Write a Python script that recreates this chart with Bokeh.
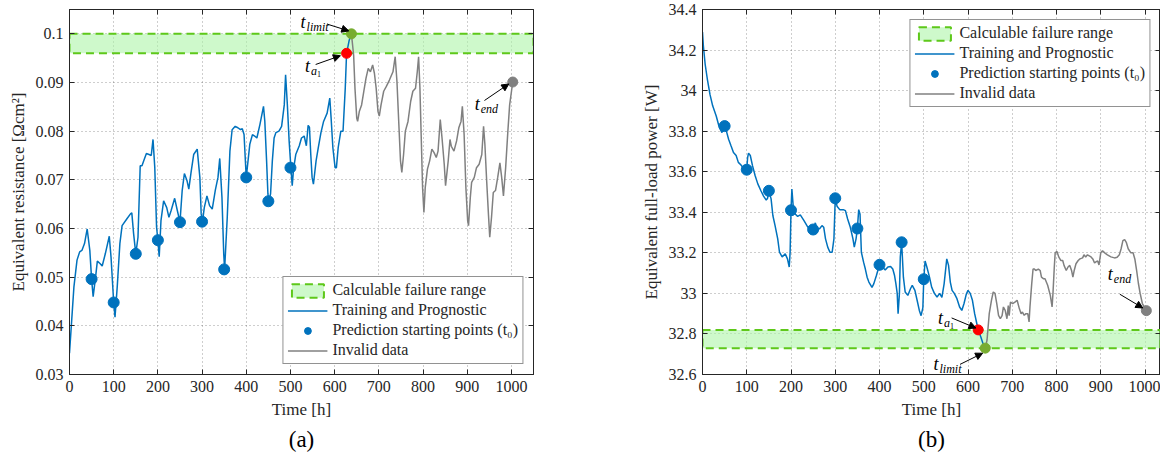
from bokeh.plotting import figure
from bokeh.models import (Range1d, Legend, LegendItem, Title, Arrow, NormalHead, Label,
                          FixedTicker, CustomJSTickFormatter, LinearAxis)
from bokeh.layouts import row
from bokeh.embed import file_html
from bokeh.resources import INLINE

FONT = "Liberation Serif"

# ---------------- data: (a) equivalent resistance ----------------
R_t_train = [0, 10, 17, 23, 28, 34, 40, 46, 50, 53.5, 59, 63, 69, 74, 81, 90, 94, 100, 103, 108, 114, 119, 130,
             138, 141, 145, 150, 155, 160, 164, 168, 174, 180, 185, 189, 193, 197, 200, 203, 207, 213, 220, 225,
             230, 238, 244, 250, 255, 260, 266, 270, 275, 281, 289, 295, 298, 301, 305, 311, 317, 323, 330, 336,
             340, 345, 349, 351, 357, 363, 368, 375, 381, 387, 391, 395, 398, 400, 404, 408, 414, 419, 424, 431,
             439, 442, 446, 449, 451, 455, 459, 463, 467, 474, 480, 486, 489, 493, 497, 501, 504, 507, 512, 520,
             525, 531, 536, 540, 543, 546, 549, 552, 558, 563, 569, 575, 583, 589, 592, 596, 601, 604, 608, 614,
             619, 624, 627, 633, 638]
R_train = [0.0344, 0.048, 0.0535, 0.0552, 0.0555, 0.0569, 0.0599, 0.0555, 0.0496, 0.046, 0.050, 0.0533, 0.0528,
           0.0523, 0.0548, 0.0584, 0.0541, 0.0448, 0.0418, 0.048, 0.0569, 0.0606, 0.062, 0.063, 0.0632, 0.059,
           0.0548, 0.0582, 0.0729, 0.0729, 0.0739, 0.0754, 0.0752, 0.075, 0.0783, 0.0725, 0.0603, 0.0576, 0.0542,
           0.0616, 0.0657, 0.0643, 0.0623, 0.0637, 0.0662, 0.0637, 0.0613, 0.0678, 0.0713, 0.0698, 0.0681, 0.0715,
           0.0752, 0.0763, 0.0705, 0.063, 0.0614, 0.0643, 0.0667, 0.0647, 0.064, 0.0679, 0.0705, 0.0744, 0.0664,
           0.0548, 0.0516, 0.0623, 0.0759, 0.0803, 0.081, 0.0807, 0.0803, 0.0805, 0.0793, 0.0739, 0.0705, 0.0739,
           0.0773, 0.0793, 0.079, 0.0786, 0.0814, 0.0851, 0.082, 0.0739, 0.0671, 0.0656, 0.0671, 0.0739, 0.0786,
           0.0797, 0.08, 0.081, 0.0854, 0.0916, 0.0854, 0.078, 0.0725, 0.0688, 0.0722, 0.0752, 0.077, 0.0786,
           0.079, 0.077, 0.0812, 0.0808, 0.0752, 0.0705, 0.0691, 0.0739, 0.0766, 0.0797, 0.082, 0.0837, 0.0868,
           0.0827, 0.0766, 0.0725, 0.0725, 0.0766, 0.08, 0.08, 0.0888, 0.096, 0.0987, 0.1]
R_t_invalid = [638, 643, 646, 650, 652, 656, 661, 666, 671, 676, 681, 686, 690, 694, 698, 701, 705, 711, 717, 724,
               732, 737, 741, 745, 749, 752, 756, 760, 766, 772, 777, 783, 787, 790, 793, 796, 799, 802, 805, 810,
               815, 820, 825, 830, 834, 839, 843, 848, 851, 857, 861, 864, 870, 876, 881, 886, 889, 893, 897, 901,
               903, 907, 910, 916, 921, 927, 933, 937, 940, 944, 948, 951, 955, 959, 964, 969, 974, 978, 982, 987,
               992, 996, 1003]
R_invalid = [0.1, 0.0956, 0.0888, 0.0827, 0.082, 0.0841, 0.0854, 0.0882, 0.0909, 0.0929, 0.0922, 0.0936, 0.0919,
             0.0888, 0.0841, 0.0831, 0.0854, 0.0882, 0.0892, 0.0905, 0.0922, 0.0953, 0.0902, 0.082, 0.0739, 0.0715,
             0.0752, 0.08, 0.082, 0.0861, 0.0882, 0.0888, 0.0922, 0.0953, 0.0888, 0.0786, 0.0684, 0.0633, 0.0684,
             0.0722, 0.0739, 0.0763, 0.0756, 0.0746, 0.0759, 0.0824, 0.0786, 0.0732, 0.0688, 0.0739, 0.0783, 0.0769,
             0.0759, 0.078, 0.0807, 0.082, 0.0851, 0.0793, 0.0684, 0.0616, 0.0606, 0.0664, 0.0695, 0.0705, 0.0725,
             0.0732, 0.0752, 0.081, 0.0773, 0.0698, 0.063, 0.0582, 0.0623, 0.0674, 0.0678, 0.0705, 0.0735, 0.0705,
             0.0667, 0.0725, 0.08, 0.0854, 0.0901]
R_t0 = [50, 100, 150, 200, 250, 300, 350, 400, 450, 500]
R_v0 = [0.0496, 0.0448, 0.0548, 0.0576, 0.0613, 0.0614, 0.0516, 0.0705, 0.0656, 0.0725]
R_band = [0.096, 0.1]
R_ta1 = [627, 0.096]
R_tlimit = [638, 0.1]
R_tend = [1003, 0.0901]

# ---------------- data: (b) equivalent full-load power ----------------
P_t_train = [0, 2, 6, 11, 17, 23, 31, 38, 44, 50, 54, 59, 64, 70, 76, 81, 87, 93, 100, 102, 104, 108, 113, 119,
             125, 132, 138, 144, 147, 150, 155, 159, 164, 170, 174, 180, 187, 192, 196, 198, 200, 202, 205, 210,
             215, 221, 229, 236, 242, 250, 255, 259, 265, 270, 274, 278, 283, 288, 293, 297, 300, 304, 310, 318,
             323, 328, 334, 340, 343, 347, 350, 353, 356, 359, 364, 368, 372, 376, 383, 387, 393, 400, 406, 413,
             419, 425, 430, 434, 437, 440, 442, 445, 447, 450, 454, 458, 464, 470, 474, 480, 485, 490, 494, 498,
             500, 503, 507, 513, 518, 524, 530, 536, 541, 546, 552, 556, 560, 564, 569, 575, 581, 586, 591, 596,
             600, 605, 610, 615, 619, 623, 629, 634, 639]
P_train = [34.289, 34.22, 34.13, 34.056, 33.98, 33.925, 33.875, 33.818, 33.793, 33.825, 33.80, 33.76, 33.73,
           33.695, 33.68, 33.646, 33.633, 33.616, 33.61, 33.67, 33.692, 33.68, 33.63, 33.58, 33.54, 33.506, 33.48,
           33.46, 33.469, 33.506, 33.466, 33.384, 33.334, 33.269, 33.203, 33.18, 33.195, 33.17, 33.13, 33.203,
           33.41, 33.515, 33.43, 33.39, 33.38, 33.387, 33.36, 33.334, 33.318, 33.315, 33.348, 33.315, 33.32,
           33.334, 33.326, 33.269, 33.228, 33.203, 33.203, 33.269, 33.469, 33.43, 33.413, 33.413, 33.408, 33.367,
           33.326, 33.269, 33.228, 33.269, 33.32, 33.413, 33.39, 33.203, 33.154, 33.12, 33.08, 33.056, 33.03,
           33.047, 33.088, 33.141, 33.13, 33.116, 33.13, 33.133, 33.12, 33.088, 33.048, 33.0, 32.9, 33.0, 33.18,
           33.252, 33.08, 33.007, 32.99, 33.023, 33.04, 33.015, 32.966, 32.916, 32.89, 32.93, 33.07, 33.16, 33.13,
           33.08, 33.03, 33.0, 32.982, 33.0, 32.98, 33.047, 33.17, 33.138, 33.056, 33.015, 33.0, 32.974, 32.933,
           32.916, 32.95, 32.995, 33.015, 33.0, 32.966, 32.9, 32.86, 32.82, 32.785, 32.752, 32.73]
P_t_invalid = [639, 643, 648, 653, 657, 661, 665, 669, 673, 677, 680, 684, 688, 691, 693, 696, 701, 706, 711, 716,
               720, 723, 727, 731, 735, 738, 740, 744, 747, 750, 753, 759, 763, 766, 771, 774, 780, 786, 790, 792,
               795, 797, 801, 805, 810, 814, 817, 822, 826, 830, 834, 837, 840, 844, 849, 853, 859, 862, 866, 870,
               874, 878, 882, 886, 889, 893, 896, 900, 904, 909, 915, 923, 931, 937, 942, 946, 950, 954, 958, 962,
               968, 973, 977, 981, 985, 989, 994, 1003]
P_invalid = [32.73, 32.77, 32.9, 32.966, 33.007, 33.0, 32.95, 32.892, 32.875, 32.89, 32.933, 32.916, 32.875, 32.94,
             32.89, 32.957, 32.95, 32.957, 32.966, 32.925, 32.9, 32.908, 32.892, 32.9, 32.9, 32.859, 32.933, 33.048,
             33.12, 33.12, 33.113, 33.12, 33.113, 33.08, 33.072, 33.072, 33.04, 32.99, 32.933, 33.0, 33.13, 33.2,
             33.207, 33.18, 33.162, 33.162, 33.138, 33.113, 33.13, 33.138, 33.113, 33.08, 33.113, 33.146, 33.162,
             33.17, 33.175, 33.19, 33.18, 33.19, 33.185, 33.18, 33.17, 33.15, 33.155, 33.16, 33.14, 33.2, 33.21,
             33.2, 33.19, 33.18, 33.175, 33.178, 33.19, 33.22, 33.26, 33.265, 33.25, 33.22, 33.2, 33.2, 33.17,
             33.114, 33.05, 33.0, 32.95, 32.915]
P_t0 = [50, 100, 150, 200, 250, 300, 350, 400, 450, 500]
P_v0 = [33.825, 33.61, 33.506, 33.41, 33.315, 33.469, 33.32, 33.141, 33.252, 33.07]
P_band = [32.73, 32.82]
P_ta1 = [623, 32.82]
P_tlimit = [639, 32.73]
P_tend = [1003, 32.915]

X_TICKS = [0, 100, 200, 300, 400, 500, 600, 700, 800, 900, 1000]
R_Y_TICKS = [0.03, 0.04, 0.05, 0.06, 0.07, 0.08, 0.09, 0.1]
P_Y_TICKS = [32.6, 32.8, 33.0, 33.2, 33.4, 33.6, 33.8, 34.0, 34.2, 34.4]

BLUE = "#0072BD"
GRAY = "#808080"
BAND_FILL = "#aef5a8"
BAND_LINE = "#5ec81a"
INK = "#262626"


def tick_only_axis(ticks):
    # mirror axis: tick marks only, labels are not drawn
    return LinearAxis(ticker=FixedTicker(ticks=ticks), major_label_text_font_size="1px",
                      major_label_text_color=None, major_label_standoff=0,
                      major_tick_in=5, major_tick_out=0,
                      minor_tick_line_color=None, axis_line_color=INK, major_tick_line_color=INK,
                      axis_label=None)


def style(p, yticks, code):
    p.xaxis.ticker = FixedTicker(ticks=X_TICKS)
    p.yaxis.ticker = FixedTicker(ticks=yticks)
    p.yaxis.formatter = CustomJSTickFormatter(code=code)
    for ax in (p.xaxis[0], p.yaxis[0]):
        ax.major_label_text_font = FONT
        ax.major_label_text_font_size = "16px"
        ax.major_label_text_color = INK
        ax.axis_label_text_font = FONT
        ax.axis_label_text_font_size = "17px"
        ax.axis_label_text_font_style = "normal"
        ax.axis_label_text_color = INK
        ax.major_tick_in = 5
        ax.major_tick_out = 0
        ax.minor_tick_line_color = None
        ax.axis_line_color = INK
        ax.major_tick_line_color = INK
        ax.major_label_standoff = 6
    p.add_layout(tick_only_axis(X_TICKS), "above")
    p.add_layout(tick_only_axis(yticks), "right")
    p.grid.grid_line_color = INK
    p.grid.grid_line_alpha = 0.45
    p.grid.grid_line_dash = "1 3"
    p.outline_line_color = INK
    p.outline_line_alpha = 1.0
    p.background_fill_color = "white"


def tlabel(p, x, y, sub, subsub=None):
    p.add_layout(Label(x=x, y=y, text="t", text_font=FONT, text_font_style="italic",
                       text_font_size="18px", text_baseline="middle", text_align="left", text_color="black"))
    p.add_layout(Label(x=x, y=y, x_offset=6, y_offset=-5, text=sub, text_font=FONT,
                       text_font_style="italic", text_font_size="12px", text_baseline="middle",
                       text_align="left", text_color="black"))
    if subsub:
        p.add_layout(Label(x=x, y=y, x_offset=12, y_offset=-8, text=subsub, text_font=FONT,
                           text_font_size="8px", text_baseline="middle", text_align="left",
                           text_color="black"))


def arrow(p, x0, y0, x1, y1):
    p.add_layout(Arrow(end=NormalHead(size=7, fill_color="black", line_color="black"),
                       x_start=x0, y_start=y0, x_end=x1, y_end=y1, line_color="black", line_width=1))


def build(xmax, yrange, fw, border_left, border_right, yticks, code, ylabel,
          t_tr, v_tr, t_inv, v_inv, t0, v0, band, ta1, tlim, tend, legend_loc, panel):
    p = figure(x_range=Range1d(0, xmax), y_range=Range1d(*yrange), frame_width=fw, frame_height=365,
               min_border_left=border_left, min_border_right=border_right, min_border_top=9,
               min_border_bottom=5, output_backend="svg", toolbar_location=None,
               x_axis_label="Time [h]", y_axis_label=ylabel)
    style(p, yticks, code)
    rb = p.quad(left=[0], right=[xmax], bottom=[band[0]], top=[band[1]], fill_color=BAND_FILL,
                fill_alpha=0.6, line_color=BAND_LINE, line_dash="8 5", line_width=2)
    rg = p.line(t_inv, v_inv, line_color=GRAY, line_width=1.5)
    rl = p.line(t_tr, v_tr, line_color=BLUE, line_width=1.5)
    rs = p.scatter(t0, v0, size=11, fill_color=BLUE, line_color=BLUE, marker="circle")
    p.scatter([ta1[0]], [ta1[1]], size=10, fill_color="#ff0000", line_color="#ff0000")
    p.scatter([tlim[0]], [tlim[1]], size=10, fill_color="#77AC30", line_color="#77AC30")
    p.scatter([tend[0]], [tend[1]], size=10, fill_color=GRAY, line_color=GRAY)
    legend = Legend(items=[LegendItem(label="Calculable failure range", renderers=[rb]),
                           LegendItem(label="Training and Prognostic", renderers=[rl]),
                           LegendItem(label="Prediction starting points (t\u2080)", renderers=[rs]),
                           LegendItem(label="Invalid data", renderers=[rg])],
                    location=legend_loc, label_text_font=FONT, label_text_font_size="16px",
                    label_text_color=INK, border_line_color=INK, border_line_width=1,
                    background_fill_alpha=1.0, glyph_width=40, glyph_height=17, label_standoff=5,
                    spacing=2, padding=4, margin=10, label_height=17)
    p.add_layout(legend)
    p.add_layout(Title(text=panel, align="center", text_font=FONT, text_font_size="23px",
                       text_font_style="normal", text_color="black", standoff=6), "below")
    return p


p1 = build(1050, (0.03, 0.105), 464, 69, 10, R_Y_TICKS,
           "return String(Math.round(tick*100)/100);", "Equivalent resistance [\u03a9cm\u00b2]",
           R_t_train, R_train, R_t_invalid, R_invalid, R_t0, R_v0, R_band, R_ta1, R_tlimit, R_tend,
           "bottom_right", "(a)")
tlabel(p1, 523, 0.1024, "limit")
arrow(p1, 583, 0.1020, 632, 0.1006)
tlabel(p1, 533, 0.0933, "a", "1")
arrow(p1, 557, 0.0937, 613, 0.0955)
tlabel(p1, 917, 0.0855, "end")
arrow(p1, 939, 0.0863, 994, 0.0897)

p2 = build(1035, (32.6, 34.4), 458, 159, 0, P_Y_TICKS,
           "return String(Math.round(tick*10)/10);", "Equivalent full-load power [W]",
           P_t_train, P_train, P_t_invalid, P_invalid, P_t0, P_v0, P_band, P_ta1, P_tlimit, P_tend,
           "top_right", "(b)")
tlabel(p2, 532, 32.877, "a", "1")
arrow(p2, 563, 32.879, 618, 32.829)
tlabel(p2, 522, 32.65, "limit")
arrow(p2, 582, 32.65, 633, 32.705)
tlabel(p2, 916, 33.095, "end")
arrow(p2, 943, 32.996, 995, 32.928)

layout = row(p1, p2)
open("out.html", "w").write(file_html(layout, INLINE))
